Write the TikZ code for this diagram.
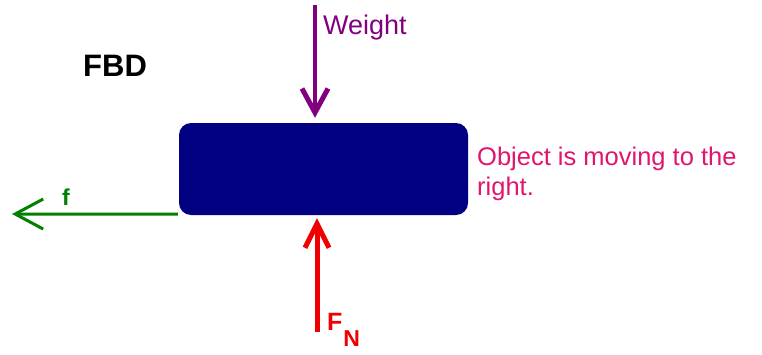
\documentclass[tikz,border=0pt]{standalone}
\usepackage{fontspec}
\setmainfont{Liberation Sans}
\usetikzlibrary{arrows.meta}
\definecolor{navy}{RGB}{0,0,128}
\definecolor{wpurple}{RGB}{128,0,128}
\definecolor{fgreen}{RGB}{0,128,0}
\definecolor{fred}{RGB}{240,0,0}
\definecolor{notepink}{RGB}{225,20,110}
\tikzset{
  lbl/.style={anchor=base west,inner sep=0pt},
}
\begin{document}
\begin{tikzpicture}[x=1pt,y=1pt]
\useasboundingbox (0,0) rectangle (762,354);
% object
\node[fill=navy,rounded corners=12pt,minimum width=289pt,minimum height=92pt,inner sep=0pt] (box) at (323.5,185) {};
% title
\node[lbl,font=\fontsize{31}{31}\bfseries\selectfont] (fbd) at (83,277) {FBD};
% weight
\coordinate (wtop) at (315,349);
\draw[wpurple,line width=4pt,-{Straight Barb[length=24pt,width=26pt,line width=5pt]}] (wtop) -- ([yshift=5pt]wtop |- box.north);
\node[lbl,text=wpurple,font=\fontsize{27}{27}\selectfont] (wlab) at (323,319) {Weight};
% normal force
\coordinate (nbot) at (317,22);
\draw[fred,line width=5pt,-{Straight Barb[length=24pt,width=24pt,line width=5pt]}] (nbot) -- ([yshift=-3pt]nbot |- box.south);
\node[lbl,text=fred,font=\fontsize{25}{25}\bfseries\selectfont] (nlab) at (327,24) {F\kern1pt\raisebox{-16pt}{\fontsize{23}{23}\selectfont N}};
% friction
\coordinate (fend) at (12,140);
\draw[fgreen,line width=3pt,-{Straight Barb[length=28pt,width=30pt,line width=3pt]}] ([xshift=-1pt,yshift=1pt]box.south west) -- (fend);
\node[anchor=base,inner sep=0pt,text=fgreen,font=\fontsize{23}{23}\bfseries\selectfont] (flab) at (66,149) {f};
% note
\node[lbl,text=notepink,font=\fontsize{25.5}{30}\selectfont,align=left] (note) at (477,159) {Object is moving to the\\right.};
\end{tikzpicture}
\end{document}
